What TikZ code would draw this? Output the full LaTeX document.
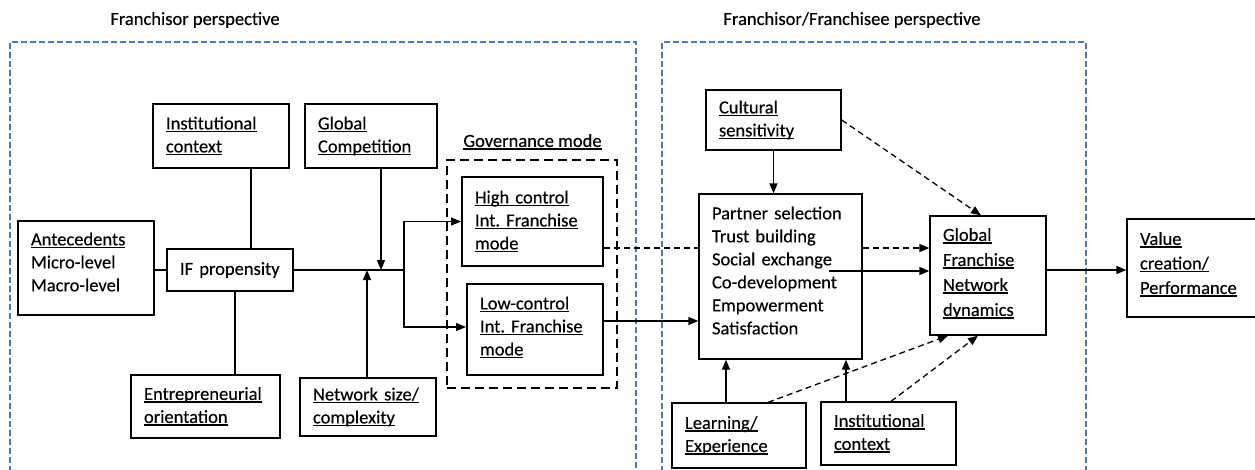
\documentclass[tikz,border=0pt]{standalone}
\usepackage{fontspec}
\setmainfont{Carlito}
\usetikzlibrary{arrows.meta,calc}
\frenchspacing
\newcommand{\undl}[1]{\leavevmode\setbox0\hbox{#1}\rlap{\rule[-3pt]{\wd0}{1.5pt}}\box0}
\definecolor{frameblue}{RGB}{74,122,175}
\begin{document}
\begin{tikzpicture}[x=1pt,y=-1pt,
  every node/.style={font=\fontsize{18.5}{23}\selectfont\addfontfeatures{FakeBold=0.25}},
  box/.style={draw, line width=1.3pt, align=left, inner xsep=13pt, inner ysep=0pt},
  thickbox/.style={box, line width=2pt},
  frame/.style={draw=frameblue, line width=2pt, dash pattern=on 6pt off 3pt},
  conn/.style={line width=1.3pt},
  arr/.style={conn, -{Triangle[length=10pt,width=8pt]}},
  darr/.style={arr, dash pattern=on 6pt off 4pt},
  dline/.style={conn, dash pattern=on 6pt off 4pt}]
\useasboundingbox (0,0) rectangle (1255,469);

% frames and titles
\draw[frame] (10,490) -- (10,42) -- (636,42) -- (636,490);
\draw[frame] (662,490) -- (662,42) -- (1086,42) -- (1086,490);
\node (t1) at (195,20) {Franchisor perspective};
\node (t2) at (852,20) {Franchisor/Franchisee perspective};

% left part
\node[box, text width=110pt, minimum height=94pt] (ante) at (86,268) {\undl{Antecedents}\\Micro-level\\Macro-level\par\kern12pt};
\node[box, text width=100pt, minimum height=42pt] (ifp) at (230,270) {IF propensity};
\node[box, text width=110pt, minimum height=64pt] (inst1) at (221,136) {\undl{Institutional}\\\undl{context}};
\node[box, text width=106pt, minimum height=64pt] (glob) at (371,136) {\undl{Global}\\\undl{Competition}};
\node[box, text width=123pt, minimum height=63pt] (entre) at (205.5,406.5) {\undl{Entrepreneurial}\\\undl{orientation}};
\node[box, text width=110pt, minimum height=58pt] (netw) at (368,407) {\undl{Network size/}\\\undl{complexity}};

% governance
\node[draw, line width=2.3pt, dash pattern=on 9pt off 5pt, minimum width=170pt, minimum height=228pt, inner sep=0pt] (gov) at (532,274) {};
\node (govlbl) at (532.5,142) {\undl{Governance mode}};
\node[thickbox, text width=115pt, minimum height=89pt] (high) at (532.5,221.5) {\undl{High control}\\\undl{Int. Franchise}\\\undl{mode}};
\node[thickbox, text width=110pt, minimum height=91pt] (low) at (535,329.5) {\undl{Low-control}\\\undl{Int. Franchise}\\\undl{mode}\par\kern4pt};

% right part
\node[box, text width=109pt, minimum height=60pt] (cult) at (773.5,120) {\undl{Cultural}\\\undl{sensitivity}};
\node[box, text width=137pt, minimum height=165pt] (part) at (780.5,276.5) {Partner selection\\Trust building\\Social exchange\\Co-development\\Empowerment\\Satisfaction\par\kern12pt};
\node[box, text width=90pt, minimum height=119pt, font=\fontsize{18.5}{25}\selectfont\addfontfeatures{FakeBold=0.25}] (gfn) at (988,275.5) {\undl{Global}\\\undl{Franchise}\\\undl{Network}\\\undl{dynamics}\par\kern4pt};
\node[box, text width=109pt, minimum height=98pt, font=\fontsize{18.5}{24.5}\selectfont\addfontfeatures{FakeBold=0.25}] (value) at (1194.5,268) {\undl{Value}\\\undl{creation/}\\\undl{Performance}\par\kern7pt};
\node[box, text width=108pt, minimum height=65pt] (learn) at (739,435.5) {\undl{Learning/}\\\undl{Experience}};
\node[box, text width=109pt, minimum height=63pt] (inst2) at (888.5,433.5) {\undl{Institutional}\\\undl{context}};

% left connectors
\draw[conn] (ifp.west) -- (ifp.west -| ante.east);
\draw[conn] ([xshift=30pt]inst1.south) -- ([xshift=30pt]inst1.south |- ifp.north);
\draw[conn] ([xshift=5pt]ifp.south) -- ([xshift=5pt]ifp.south |- entre.north);
\coordinate (br) at (404,270);
\draw[conn] (ifp.east) -- (br);
\draw[arr] ([xshift=10pt]glob.south) -- ([xshift=10pt]glob.south |- br);
\draw[arr] ([xshift=-1pt]netw.north) -- ([xshift=-1pt]netw.north |- br);
\draw[arr] (br) |- (high.west);
\draw[arr] (br) |- ($(low.west)+(0,-2.5)$);

% middle connectors
\coordinate (hd) at ($(high.east)+(0,26.5)$);
\draw[dline] (hd) -- (hd -| part.west);
\draw[darr] (hd -| part.east) -- (hd -| gfn.west);
\coordinate (ld) at ($(low.east)+(0,-8.5)$);
\draw[arr] (ld) -- (ld -| part.west);

% right connectors
\draw[arr] (cult.south) -- (cult.south |- part.north);
\draw[darr] (cult.east) -- ($(gfn.north)+(-7,0)$);
\coordinate (ps) at ($(part.east)+(-34,-5.5)$);
\draw[arr] (ps) -- (ps -| gfn.west);
\coordinate (gv) at ($(gfn.east)+(0,-5.5)$);
\draw[arr] (gv) -- (gv -| value.west);
\coordinate (la) at ($(learn.north)+(-13,0)$);
\draw[arr] (la) -- (la |- part.south);
\coordinate (ia) at ($(inst2.north)+(-42.5,0)$);
\draw[arr] (ia) -- (ia |- part.south);
\draw[darr] ($(learn.north)+(29,0)$) -- ($(gfn.south)+(-40,0)$);
\draw[darr] ($(inst2.north)+(2.5,0)$) -- ($(gfn.south)+(-10,0)$);
\end{tikzpicture}
\end{document}
